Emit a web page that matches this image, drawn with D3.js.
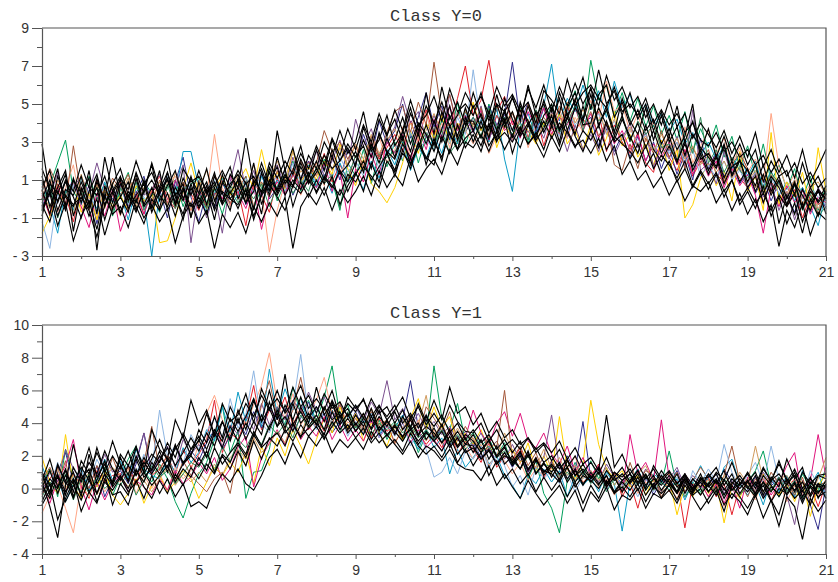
<!DOCTYPE html>
<html>
<head>
<meta charset="utf-8">
<script src="https://cdn.jsdelivr.net/npm/d3@7"></script>
<style>
  html, body { margin: 0; padding: 0; background: #fff; }
  svg { display: block; }
</style>
</head>
<body>
<script>
// samples taken every 0.2 on x, from 1 to 21 (101 values per curve)
const xTicks = [1, 3, 5, 7, 9, 11, 13, 15, 17, 19, 21];
const yTicksTop = [-3, -1, 1, 3, 5, 7, 9];
const yTicksBottom = [-4, -2, 0, 2, 4, 6, 8, 10];
const titles = ['Class Y=0', 'Class Y=1'];

// ---- Class Y=0 ----
const c0a = [0.5,-0.8,1.2,0.1,-0.4, 0.9,-0.2,0.6,-1.1,0.3, 1.0,-0.5,0.2,0.8,-0.7, 0.4,1.1,-0.3,0.6,-0.9, 0.2,0.9,-0.4,1.3,0.0, 0.6,-0.2,1.0,0.4,1.4, 0.3,1.2,0.7,1.9,0.9, 1.6,0.8,2.2,1.3,1.8, 2.5,1.4,2.9,1.9,3.2, 2.2,3.6,2.5,3.9,2.9, 4.1,3.0,4.4,3.3,4.8, 3.6,4.5,3.2,5.0,3.8, 4.6,3.4,4.9,3.7,5.2, 4.0,5.3,3.6,4.8,4.1, 5.5,3.9,4.7,3.3,4.4, 3.1,4.0,2.7,3.6,2.4, 3.3,2.0,2.9,1.7,2.6, 1.5,2.3,1.1,2.0,0.9, 1.6,0.4,1.3,0.2,1.0, -0.3,0.8,-0.5,0.6,-0.2, 0.4];
const c0b = [-0.6,0.7,1.9,3.1,0.4, -0.3,1.2,0.0,0.8,-0.9, 0.5,1.4,-0.2,0.9,0.3, -0.7,0.6,1.0,-0.4,0.8, 1.1,-0.2,0.5,-0.8,0.7, 0.1,1.2,-0.5,0.6,1.5, -0.1,0.9,2.0,0.4,1.3, 0.7,2.1,1.0,-0.6,1.9, 1.2,2.6,0.8,2.4,1.7, 3.0,2.0,3.5,1.9,3.3, 2.6,4.2,3.1,5.1,2.9, 4.0,3.2,5.0,3.7,4.3, 3.3,4.8,2.9,4.4,3.8, 5.0,3.5,4.6,5.7,4.0, 7.3,5.2,6.0,4.4,5.6, 4.1,5.3,3.8,4.9,3.4, 4.4,3.1,4.6,2.5,3.7, 2.7,3.9,2.2,3.3,1.6, 2.8,1.2,2.9,0.9,1.8, 0.5,1.6,0.0,1.2,-0.6, 0.7];
const c0c = [0.3,-0.9,0.8,0.2,-1.2, 0.6,-0.4,1.0,0.1,-0.6, 0.9,-0.1,0.4,-0.8,0.5, 1.2,0.0,-0.5,0.8,0.3, -0.6,0.7,0.2,1.0,-0.3, 0.5,-1.4,0.9,0.2,-0.7, 1.1,0.3,1.6,0.6,2.0, 1.2,2.4,0.9,1.8,1.0, 2.3,1.6,3.0,2.1,2.7, 3.4,2.5,4.1,3.0,4.7, 3.3,4.5,3.8,5.3,7.0, 4.4,5.2,7.3,4.6,5.4, 3.9,4.7,3.2,4.5,2.8, 4.1,3.4,4.9,3.6,4.2, 3.7,4.6,2.5,3.9,3.0, 2.4,3.5,1.9,1.4,3.1, 2.2,1.5,2.6,1.2,2.0, 1.6,2.4,0.9,1.7,1.1, 0.6,1.4,-0.2,0.9,0.3, -0.4,0.5,-1.0,0.2,-0.3, 0.1];
const c0d = [-0.4,0.6,-0.9,0.3,1.0, -0.2,0.7,-1.3,0.4,0.0, 0.8,-0.6,0.3,1.2,-0.3, 0.5,-1.0,0.9,2.2,0.1, -1.2,0.4,-0.5,0.8,0.2, 1.0,-0.3,0.6,1.3,0.0, 0.6,1.5,0.2,1.1,2.0, 0.9,1.6,2.3,1.0,2.6, 1.8,3.4,2.2,4.1,2.9, 3.6,5.0,3.2,4.3,5.6, 3.8,4.9,3.1,4.6,3.5, 4.3,3.6,4.9,3.9,4.4, 7.2,4.0,5.1,3.5,4.8, 3.6,4.5,3.2,5.0,3.9, 4.3,2.8,3.7,2.5,3.4, 2.2,3.3,2.0,3.0,1.6, 2.7,1.3,2.4,1.0,3.2, 1.6,2.5,1.2,1.9,0.8, 1.5,0.3,1.1,-0.1,0.9, 0.2,-0.7,0.6,-0.3,0.4, -0.5];
const c0e = [0.8,-0.3,-1.8,0.5,-0.6, 1.1,0.2,-0.5,0.9,-0.2, 0.3,-1.1,0.6,0.0,-3.0, 0.4,1.0,0.2,2.5,2.5, 0.6,-0.8,0.3,1.1,-0.4, 0.2,0.8,-0.5,1.2,0.4, 1.0,0.2,1.4,0.5,1.8, 0.6,1.3,0.3,1.9,0.9, 1.4,0.5,2.0,1.1,2.6, 1.8,3.0,1.5,2.7,2.1, 3.4,2.4,3.9,2.9,4.6, 3.5,4.2,3.0,4.8,2.1, 0.4,3.8,4.5,3.3,4.9, 7.1,4.1,5.3,4.6,6.0, 4.7,5.7,4.3,6.2,4.8, 5.5,4.2,5.0,3.8,4.5, 3.6,4.2,2.9,3.5,2.3, 3.0,2.1,2.8,1.6,2.4, 1.2,2.0,0.6,1.5,0.2, 0.9,-0.1,0.6,-0.4,-1.4, 0.3];
const c0f = [0.1,1.3,-0.7,0.6,1.8, -0.5,0.4,-1.0,0.7,0.2, -0.9,0.6,1.1,-0.2,0.5, -0.6,0.9,1.2,0.3,-0.2, 1.0,0.1,3.4,0.6,-0.4, 0.7,-0.1,1.1,0.4,-2.8, -0.6,0.9,1.6,0.2,1.2, 1.9,0.7,2.5,1.3,2.1, 2.9,1.5,2.6,3.3,1.9, 2.6,3.8,2.2,3.2,4.5, 3.0,4.0,2.7,4.6,3.6, 2.9,3.8,2.4,3.3,4.2, 3.1,4.5,2.7,3.9,5.0, 3.6,4.8,3.2,4.3,3.5, 5.2,4.1,6.2,4.6,5.0, 3.5,4.5,3.0,4.1,2.6, 3.4,2.2,3.8,1.9,2.8, 3.6,2.4,3.2,1.8,2.7, 1.4,2.1,0.9,4.5,1.7, 0.6,1.3,0.0,0.8,-0.5, 0.2];
const c0g = [-1.8,-0.9,0.4,-0.3,0.9, -0.7,0.3,-1.1,0.5,-0.4, 0.2,-0.6,0.7,-0.1,0.4, -2.3,-2.2,-1.0,0.5,1.9, 0.3,-0.5,0.6,1.2,0.2, 0.9,1.6,0.5,2.6,0.8, 1.4,0.5,2.6,0.8,1.7, 1.0,2.0,1.3,2.9,1.6, 0.7,2.1,0.8,0.4,-0.2, 0.6,1.9,3.6,2.4,4.0, 3.2,4.4,2.9,4.0,3.5, 5.1,3.6,4.6,2.7,3.9, 3.2,4.2,3.6,2.9,4.0, 3.3,4.5,2.9,3.6,2.6, 3.9,2.3,3.2,4.6,2.8, 3.4,2.2,2.9,1.8,3.1, 1.5,2.6,-1.0,-0.3,1.1, 1.9,0.7,1.5,-0.1,2.5, 0.4,1.2,-0.6,3.5,-0.3, 0.9,0.1,1.4,-0.6,2.7, 0.4];
const c0h = [0.2,-0.8,0.6,-0.3,0.9, -0.4,-1.5,0.3,-0.9,0.5, -1.7,-0.5,0.2,-0.8,0.4, 0.7,-0.2,1.0,0.1,-0.6, 0.4,-0.4,0.8,0.0,1.2, 0.3,-0.5,0.7,-1.6,0.2, 0.9,0.2,1.3,0.5,1.0, 0.6,1.9,0.4,1.5,-1.0, 1.6,0.9,2.4,1.3,3.0, 2.4,3.4,2.0,3.7,2.6, 4.2,3.1,4.9,3.6,4.4, 3.5,4.7,3.1,4.4,3.6, 4.1,3.2,4.6,3.8,4.8, 3.4,4.3,3.9,4.8,3.6, 4.5,3.2,4.0,2.9,3.6, 2.6,3.4,2.0,2.9,2.2, 3.0,1.8,2.6,1.3,2.2, 1.2,2.0,0.6,1.6,0.7, 1.3,0.2,-1.8,0.6,-0.4, 0.7,-0.2,0.5,-0.8,0.1, -0.2];
const c0i = [0.9,0.1,1.4,-0.2,0.6, 1.2,0.3,1.9,0.5,-0.1, 0.7,-0.4,1.0,0.2,0.5, 1.3,-0.3,0.6,1.8,-2.3, 0.5,-1.0,0.3,-1.8,0.9, 2.6,0.4,1.5,0.1,1.0, 1.8,0.6,2.2,1.0,1.6, 2.5,1.2,2.0,3.1,1.7, 4.2,2.8,3.7,2.2,3.0, 3.8,5.4,4.0,4.6,3.2, 4.4,3.3,5.5,3.8,4.3, 3.6,4.9,3.2,3.9,4.6, 3.0,4.3,3.5,4.1,3.2, 4.6,3.8,2.5,3.9,2.6, 3.4,2.5,3.9,2.3,3.2, 4.0,2.7,3.5,1.7,2.8, 2.1,3.3,1.7,4.7,1.5, 1.9,0.8,2.5,1.2,1.6, 0.5,1.4,0.1,0.8,-0.6, 0.4,-1.1,0.2,-0.7,0.6, -0.1];
const c0j = [0.4,1.6,0.7,-0.3,2.8, 0.2,-0.6,0.8,-0.1,1.1, 0.5,1.3,0.0,0.8,-0.3, 1.0,0.3,-0.4,0.9,0.2, 0.7,-0.5,1.3,0.4,-0.2, 0.5,1.2,-0.4,0.9,0.1, 1.5,0.6,1.2,2.0,1.1, 1.9,3.6,2.5,3.0,2.1, 2.8,1.7,3.3,2.2,3.5, 4.6,4.9,3.5,5.1,3.9, 7.2,4.4,5.5,3.7,4.6, 3.9,4.8,3.3,4.4,3.7, 4.5,3.5,5.0,3.9,4.3, 3.7,4.9,4.2,5.3,3.8, 4.6,3.3,4.1,1.8,1.5, 2.9,1.6,3.2,2.4,3.6, 2.2,3.0,1.6,2.7,1.9, 2.6,1.3,0.9,1.8,2.4, 1.6,0.6,1.2,0.3,1.0, 0.1,1.0,-0.4,0.6,-0.8, 0.5];
const c0k = [-1.2,-2.6,0.3,-0.5,0.8, -0.3,0.5,-0.8,0.2,-0.1, 0.6,-0.3,0.9,0.1,-0.5, 0.3,1.2,-0.2,0.7,0.4, -0.1,0.6,1.0,0.2,0.9, 0.4,1.1,0.3,1.5,0.6, 1.2,0.4,1.9,0.8,1.4, 0.9,1.7,1.1,2.2,1.4, 2.0,1.2,2.7,1.6,2.3, 2.9,2.1,3.5,2.6,3.1, 2.6,3.8,2.9,4.3,3.4, 6.8,3.9,4.5,3.4,4.1, 3.6,4.4,3.1,4.0,3.5, 4.2,3.3,4.7,3.9,4.4, 3.8,4.5,3.5,4.1,3.2, 3.7,2.9,3.4,2.5,3.0, 2.4,3.0,1.9,2.6,1.2, 1.8,1.1,2.0,1.0,1.5, 0.8,1.4,0.6,1.1,0.3, 0.5,1.0,-0.2,0.6,0.1, -0.3];
const c0l = [2.9,0.2,1.6,-0.5,1.1, -0.2,1.5,-0.8,2.2,0.4, 1.2,-0.1,1.4,0.3,1.9, 0.5,1.4,-0.3,1.1,0.2, 1.5,0.3,0.9,-0.2,1.3, 0.6,3.2,0.8,1.6,0.4, 3.6,1.5,2.7,1.0,2.3, 1.6,3.0,2.2,3.6,2.4, 3.0,4.6,2.6,4.2,3.3, 4.7,3.6,5.2,3.9,4.4, 5.4,4.1,5.8,4.6,5.0, 4.4,5.6,4.1,5.0,4.6, 5.3,4.3,5.8,4.8,6.0, 4.6,5.9,4.9,6.1,5.0, 5.8,4.9,6.5,5.2,5.9, 4.8,5.4,4.3,5.0,3.9, 5.2,3.8,4.5,3.2,4.0, 3.4,2.7,3.6,2.4,3.3, 2.2,3.5,1.7,2.6,1.4, 2.3,1.1,2.6,0.9,1.7, 2.6];
const c0m = [-0.6,0.3,-1.4,-0.2,-2.2, -0.9,-0.1,-1.6,0.2,-0.8, -0.4,-1.5,0.0,-1.0,-0.3, -1.2,-0.5,-2.3,-0.9,-0.2, -1.3,-0.6,-2.6,-0.8,-1.5, -0.7,-1.8,-0.4,-1.2,-0.2, -0.9,0.1,-2.6,-0.4,0.3, -0.3,0.6,-0.6,0.5,-0.2, 0.4,1.2,0.2,1.5,0.6, 1.3,0.7,2.2,0.9,1.6, 2.1,1.3,2.6,1.8,3.0, 2.7,3.4,2.5,3.6,2.6, 3.4,2.7,3.9,3.0,2.2, 3.3,2.5,3.6,2.8,3.1, 2.4,3.2,2.0,2.8,1.3, 2.0,1.0,1.5,0.6,1.2, 0.2,1.0,-0.1,0.7,0.4, 0.9,-0.2,0.5,-0.6,0.3, -0.8,0.0,-1.2,-0.3,-2.5, -0.6,-1.5,-0.2,-1.9,-0.7, -1.1];
const c0n = [1.2,-0.4,0.6,1.5,-0.9, 0.4,1.1,-2.7,0.7,-0.5, 0.8,0.1,1.3,-0.3,0.6, -0.5,1.4,0.2,0.8,-1.0, 0.9,-0.3,1.2,0.3,-0.6, 1.1,0.2,0.8,-0.8,1.7, 0.4,1.3,0.7,2.1,1.2, 2.0,1.0,2.6,1.5,0.9, 1.9,3.1,2.2,3.4,2.5, 2.1,3.3,1.8,2.7,3.9, 2.8,4.6,3.4,2.6,3.8, 4.9,3.7,4.4,3.2,4.7, 3.6,4.9,4.1,3.2,4.4, 5.0,3.7,4.5,3.4,4.9, 3.6,4.8,3.9,3.1,4.2, 3.3,2.4,3.9,2.6,2.0, 2.8,1.9,3.1,1.5,2.4, 1.3,2.2,0.8,1.7,2.0, 0.9,1.8,0.3,1.2,0.6, -0.3,0.8,0.2,-0.6,0.5, 0.0];
const c0o = [0.0,1.0,-0.6,0.5,0.2, 1.2,-0.3,0.9,0.0,2.2, 0.1,0.9,-0.6,0.4,1.0, 0.2,-0.4,0.6,-0.1,1.2, -0.2,0.7,-0.6,0.4,0.0, -0.3,0.5,-1.1,0.3,0.9, 1.7,0.2,1.0,0.5,1.4, 0.3,1.1,0.6,1.5,0.4, 1.3,2.0,1.0,1.7,2.4, 1.5,2.9,2.2,3.5,1.8, 3.2,2.0,3.9,2.6,4.3, 3.0,4.1,2.8,3.5,4.6, 3.2,5.1,3.9,4.6,3.5, 4.4,3.0,4.8,5.6,4.2, 5.9,3.8,4.9,3.5,5.3, 4.1,3.4,4.8,3.1,4.4, 3.0,3.8,2.3,3.4,2.7, 2.2,1.6,2.8,1.2,2.0, 1.5,0.7,1.8,0.4,1.2, 0.0,0.9,-0.5,0.4,-0.1, 0.7];
const c0p = [-0.9,0.8,0.3,1.3,-1.7, 0.6,-0.5,1.1,-0.3,0.7, -0.7,0.4,-0.2,1.0,-0.5, 0.6,2.1,0.1,-0.8,0.8, -0.4,0.5,-1.1,0.9,0.3, 1.0,-0.2,0.4,1.9,0.7, 0.2,1.0,0.6,1.7,0.8, 1.4,2.3,1.6,2.0,2.9, 2.2,2.8,1.6,3.5,2.4, 3.1,4.3,2.9,4.0,3.4, 2.5,3.7,4.9,3.1,4.1, 4.1,3.2,4.6,3.6,5.3, 4.2,3.3,4.0,3.1,3.7, 4.8,3.6,4.3,5.2,3.9, 4.0,5.5,6.0,4.3,5.1, 3.9,4.7,3.6,4.2,2.9, 3.7,2.6,3.3,5.0,2.1, 2.4,1.7,2.9,1.3,2.1, 0.6,1.2,-0.2,1.0,-1.3, 0.2,-0.8,0.5,-0.3,0.4, 0.0];
const c0q = [0.6,1.5,-0.2,0.9,0.1, -1.0,0.4,1.3,-0.4,0.8, 1.6,0.2,-0.7,0.5,1.8, -0.1,0.7,1.5,0.0,1.1, 0.3,1.6,-0.1,0.8,1.7, 0.0,0.9,-0.6,1.4,0.2, 2.2,0.8,1.5,2.8,1.1, 2.6,1.5,3.1,2.0,2.7, 1.7,3.8,2.5,3.1,4.4, 2.8,3.5,4.8,3.3,5.6, 3.4,5.9,4.2,5.1,3.9, 5.6,4.3,3.6,5.5,4.0, 5.4,4.1,6.0,4.4,5.0, 3.8,5.6,4.4,5.2,6.4, 4.7,6.8,5.0,5.7,4.4, 5.6,4.2,5.0,3.6,4.6, 3.3,4.9,3.0,4.1,2.5, 3.7,2.2,3.3,2.0,2.9, 1.8,2.6,0.9,2.0,1.2, 1.5,0.2,1.9,0.6,1.2, 0.2];
const c0r = [-0.3,-1.2,0.4,-0.6,1.0, 0.3,-0.9,0.0,-1.9,-0.5, 0.1,-0.7,1.1,-0.4,0.2, 1.5,-0.6,0.3,-1.1,0.6, -0.5,0.2,1.4,-0.2,0.8, 1.3,0.1,1.9,-0.3,1.0, 0.5,1.6,-0.4,0.9,0.1, 1.0,0.2,1.2,-0.3,0.7, 1.4,0.4,1.9,0.9,2.5, 1.2,2.6,1.6,3.0,2.2, 1.8,3.3,2.4,3.9,2.7, 3.4,2.5,3.9,3.0,4.2, 2.4,3.7,2.9,3.5,2.6, 3.9,2.8,4.3,3.3,2.5, 3.6,2.7,4.1,3.0,3.4, 2.1,2.9,1.7,2.4,1.3, 2.0,0.9,1.6,0.6,1.4, 0.5,1.3,0.1,1.0,-0.3, 0.4,-0.5,0.7,-0.9,0.1, -1.3,-0.2,-1.8,0.0,-0.9, 0.3];
const c0s = [1.6,0.5,-0.1,1.0,0.4, 1.8,0.6,0.2,1.2,-0.2, 1.1,0.5,2.0,0.8,1.4, 0.3,1.0,-0.2,1.6,0.9, 1.2,0.4,0.7,1.5,0.6, 1.5,0.8,1.2,0.3,1.9, 1.1,2.0,1.3,2.4,1.6, 2.8,1.8,3.2,2.3,3.7, 2.6,3.9,3.0,4.5,3.4, 4.2,3.1,4.5,3.6,4.9, 4.0,5.1,3.8,4.4,5.6, 4.8,5.4,4.5,5.9,4.9, 5.5,4.6,5.1,4.0,5.7, 5.2,4.5,6.3,4.9,5.6, 6.0,5.3,4.8,5.9,4.6, 5.0,4.4,5.3,4.0,4.7, 3.9,4.5,3.5,4.0,3.1, 2.8,3.5,2.5,3.0,2.2, 2.6,1.8,2.3,1.4,2.1, 1.2,1.9,0.8,1.4,0.6, 1.1];
const c0t = [-0.5,0.4,-0.9,0.2,-0.3, 0.1,-0.6,-2.0,-0.3,0.4, -0.8,0.2,-0.4,-1.3,0.0, -0.6,0.3,-0.9,0.5,-0.4, 0.1,-0.8,0.6,-0.3,0.4, -0.5,0.5,-0.9,0.2,0.8, 0.1,-0.6,0.7,0.3,1.0, 0.4,1.2,0.7,0.2,1.3, 0.9,1.7,1.2,0.6,2.0, 1.4,2.4,1.9,2.9,2.1, 3.0,2.2,3.5,2.6,3.2, 3.6,2.8,4.0,3.1,3.5, 3.0,3.8,2.9,3.4,4.1, 3.2,4.0,3.5,2.7,3.6, 3.1,3.9,2.6,3.3,2.9, 2.5,1.9,2.8,1.6,2.3, 1.8,1.1,2.0,0.7,1.5, 0.8,1.4,0.4,1.0,-0.1, 0.6,-0.2,0.3,-0.6,0.2, -0.4,0.3,-1.2,-0.1,0.5, -0.8];
const c0u = [0.4,-0.5,1.0,0.2,-0.8, 1.3,0.0,0.7,-0.5,0.9, 0.2,1.1,-0.4,0.6,0.0, 0.9,-0.3,1.4,0.4,-0.6, 0.6,1.5,0.0,0.9,0.3, 1.3,0.4,1.8,0.7,1.1, 2.0,1.0,2.5,1.4,1.9, 1.2,2.3,1.5,2.7,1.8, 2.9,2.1,3.4,2.4,3.1, 3.7,2.8,4.0,3.2,3.6, 4.5,3.5,4.0,3.1,4.7, 3.8,4.4,3.3,4.9,4.0, 4.6,3.6,4.2,3.0,3.9, 4.5,3.7,5.1,4.0,4.7, 3.9,4.8,3.4,4.2,3.1, 3.8,2.8,3.3,2.5,3.4, 2.6,3.2,2.1,2.8,1.8, 2.3,1.4,2.0,1.1,1.7, 0.9,1.5,0.4,1.3,0.7, 0.3,1.0,-0.3,0.6,0.9, 0.2];
const c0v = [-0.2,0.7,-1.0,0.3,0.9, 0.4,-0.4,0.6,0.1,-0.7, 0.6,-0.2,0.9,-0.6,0.3, 0.0,0.8,-0.5,0.4,1.0, 0.3,-0.5,0.8,-0.1,0.5, -0.2,0.6,0.0,0.8,-0.4, 0.7,1.3,0.3,1.0,0.4, 1.7,0.8,1.3,-0.5,1.1, 2.3,1.5,2.8,1.9,2.2, 2.5,3.1,1.8,2.7,3.5, 2.9,3.6,2.4,3.0,3.8, 4.3,3.3,4.8,3.7,4.0, 3.4,4.0,3.1,4.7,3.8, 4.3,3.5,4.0,4.9,3.6, 5.0,4.1,4.6,3.6,4.3, 3.0,4.1,3.4,3.9,2.7, 2.9,2.0,3.5,2.4,4.3, 1.9,2.6,1.4,2.2,1.5, 1.1,1.8,0.5,1.4,0.8, 0.1,0.7,-0.6,0.3,-0.9, -0.4];

// ---- Class Y=1 ----
const c1a = [0.8,-0.4,1.5,0.3,2.7, 0.6,1.2,-0.3,0.9,0.2, 1.4,0.5,1.8,0.7,1.2, 2.3,1.0,2.6,1.6,2.1, 3.0,1.9,3.4,2.5,3.8, 2.9,4.0,3.2,4.5,3.6, 4.8,3.7,5.2,4.0,4.6, 3.9,5.0,4.2,4.7,3.6, 4.5,3.8,4.9,3.5,4.2, 3.3,4.4,3.6,4.0,3.0, 3.7,2.8,3.4,2.5,3.1, 2.2,3.0,1.8,2.6,1.5, 2.0,1.2,2.3,0.9,1.6, 0.7,1.5,0.4,1.1,0.2, 1.0,0.3,0.8,-0.2,0.5, 0.9,-0.1,0.7,0.2,1.1, 0.4,-0.3,0.6,0.0,0.9, -0.2,0.5,-0.6,0.3,0.8, 0.1,-0.5,0.4,-0.2,0.6, -0.4,0.3,-0.9,0.2,-0.3, 0.5];
const c1b = [0.3,1.2,-0.5,2.4,0.6, -0.2,0.9,0.1,1.3,-0.4, 0.7,1.8,2.6,1.1,0.4, 1.5,0.6,-0.8,-1.8,-0.3, 0.9,1.6,3.0,5.1,2.2, 3.5,-0.6,1.0,1.1,2.4, 5.0,3.9,6.2,4.6,5.4, 4.1,5.6,7.5,4.4,5.1, 3.7,4.6,3.2,4.2,3.0, 4.0,2.9,3.6,2.2,3.3, 7.5,4.3,3.6,5.2,2.9, 3.4,2.6,3.1,2.0,2.8, 1.4,2.2,0.6,1.7,-0.3, -1.2,-2.7,0.5,1.6,0.8, 1.7,0.6,1.3,0.2,0.9, 0.5,1.2,-0.1,0.7,0.3, 2.3,0.1,-0.6,0.4,-0.2, 0.8,0.3,-0.4,0.6,0.1, 0.4,1.1,2.3,0.2,-0.5, 0.3,-0.4,0.9,0.0,-0.2, 1.3];
const c1c = [-0.4,0.6,1.3,-0.2,0.9, 0.2,-0.6,1.1,0.4,0.8, 0.9,1.4,0.3,1.7,0.8, 1.2,2.0,0.9,2.4,1.3, 2.1,3.0,5.4,2.2,3.4, 3.0,4.2,6.3,3.6,4.8, 4.4,5.6,3.9,4.9,3.6, 4.3,3.5,4.8,3.9,4.5, 3.8,4.6,3.1,4.3,3.5, 3.9,3.0,4.2,3.4,2.7, 3.3,2.5,3.7,2.1,2.9, 2.4,1.6,2.8,1.3,2.0, 1.7,2.5,1.0,1.9,0.7, 1.3,0.6,1.8,0.9,0.4, 0.7,1.5,0.2,1.0,-0.5, 0.4,-1.2,0.6,0.1,0.8, -0.2,0.5,-2.4,0.3,-0.4, 0.7,-0.5,0.3,-1.6,0.2, 0.5,-0.3,0.9,-0.8,0.4, 0.0,0.6,-0.5,0.2,-1.1, 0.3];
const c1d = [0.6,-0.2,1.0,2.2,0.4, 0.9,0.0,1.4,-0.5,0.6, 1.1,0.3,1.5,3.4,1.0, 2.0,1.2,2.6,1.4,2.3, 1.7,2.8,3.6,2.4,3.2, 4.1,3.3,4.7,3.7,5.0, 4.2,4.9,3.5,4.3,5.3, 3.8,4.6,3.4,4.1,3.7, 4.7,3.6,4.2,3.2,3.9, 3.4,4.2,6.6,3.7,4.5, 2.9,3.8,2.6,3.2,2.2, 2.8,1.9,2.5,1.6,2.2, 1.3,2.1,1.0,1.7,0.9, 1.6,0.8,2.0,1.1,4.1, 0.6,1.2,-0.1,0.8,0.3, 0.9,0.2,0.7,-0.4,0.5, 0.3,1.1,-0.2,0.6,0.0, 0.8,0.1,1.2,0.4,-0.3, -0.1,0.7,-0.5,0.2,0.5, 0.4,-0.6,0.1,-1.0,-2.5, 0.2];
const c1e = [1.4,0.1,0.7,-0.8,0.3, 1.2,-0.1,0.6,1.8,0.5, 1.7,0.6,2.4,1.2,0.8, 0.6,1.8,1.0,2.5,1.6, 2.2,3.6,2.9,5.0,3.4, 5.9,4.1,5.5,3.8,7.3, 4.5,6.1,4.8,5.5,4.0, 5.0,4.1,4.8,3.6,4.3, 5.1,4.0,4.6,3.3,4.1, 3.7,4.5,3.2,2.4,3.6, 2.5,3.1,0.9,2.4,1.3, 1.9,2.6,1.5,2.0,0.8, 0.2,-0.6,0.8,0.3,1.2, 0.4,1.1,-0.5,0.8,0.2, 0.7,-0.2,1.0,0.3,-2.6, 0.4,1.2,0.1,0.9,0.5, -0.1,0.6,-0.7,0.4,1.4, 0.5,-0.2,1.3,1.8,0.3, -0.4,0.3,-1.0,0.6,-0.2, 0.8,-0.5,1.1,0.2,1.0, -0.6];
const c1f = [-1.5,-0.4,0.2,-1.2,-2.7, 0.3,-0.5,1.0,-0.2,0.6, 0.4,1.2,-0.3,0.8,0.0, 0.9,-0.1,1.3,0.6,1.1, 2.8,4.6,5.7,4.2,3.3, 4.8,3.9,5.1,6.3,8.3, 5.2,4.3,5.8,3.9,4.6, 5.4,6.8,4.6,5.1,4.0, 4.4,3.7,4.9,3.5,4.0, 2.7,3.8,3.1,4.2,2.9, 3.6,2.7,3.2,2.2,2.6, 1.8,2.7,1.4,2.1,1.7, 0.9,1.6,0.5,1.2,0.8, 1.4,0.6,1.1,2.0,0.4, 0.9,0.1,0.6,-0.4,0.3, 0.7,-0.3,0.4,-0.1,0.9, 0.2,-0.6,0.5,-0.2,0.3, -0.5,0.4,-1.1,0.1,-0.4, 0.3,-0.7,0.6,-0.1,0.4, -0.8,0.2,-0.3,0.7,-0.5, 0.6];
const c1g = [1.9,0.4,-0.3,3.3,0.2, -0.6,0.5,0.1,1.1,-0.4, -1.0,-0.3,0.6,-0.9,0.2, 0.8,-0.2,0.4,1.1,0.6, -0.6,0.4,1.3,0.8,1.6, 1.0,2.2,0.3,2.6,1.4, 3.1,2.0,3.6,2.6,1.5, 3.0,4.3,3.4,5.0,3.7, 4.6,2.9,4.0,3.4,2.6, 3.9,3.0,4.3,5.5,3.6, 5.0,3.7,4.4,2.6,3.4, 2.7,3.6,2.3,2.9,1.9, 2.4,1.6,2.8,1.1,2.0, 0.9,4.4,1.2,0.6,1.5, 5.4,2.7,1.2,0.6,1.1, 0.1,0.8,-0.4,0.6,-0.2, 0.5,-1.6,0.2,-0.5,0.7, -0.3,0.4,-2.1,0.2,-0.6, 0.6,-0.2,0.9,0.1,-0.4, 0.3,-0.8,0.5,-1.7,0.2, 0.9];
const c1h = [0.2,-0.9,0.5,1.4,3.0, 0.1,-1.3,0.4,-0.7,0.3, 0.9,-0.2,0.5,0.1,-0.4, 0.6,-0.1,1.1,0.3,0.7, 1.6,0.9,1.9,0.5,1.2, 2.5,3.2,0.1,1.9,2.8, 3.6,2.7,4.1,3.0,3.8, 3.2,4.4,3.0,3.9,2.9, 3.6,2.9,4.2,3.1,3.8, 3.3,4.0,2.8,3.6,2.5, 3.0,2.3,3.5,2.6,3.1, 4.8,3.4,2.7,4.0,4.7, 3.2,4.6,2.9,2.5,3.4, 2.1,1.5,2.6,1.0,1.9, 0.8,1.4,0.3,0.9,-0.2, 3.3,0.9,1.6,0.5,4.2, 0.6,-0.3,0.9,0.1,0.4, -0.5,0.3,-0.9,0.2,-1.2, 0.7,0.0,0.6,-0.4,0.3, 1.4,2.2,-0.6,0.5,3.3, 0.7];
const c1i = [-0.2,1.0,0.4,2.4,1.2, 0.5,1.6,0.8,2.1,1.0, 1.3,0.4,1.7,3.4,1.0, 1.8,2.6,1.3,3.0,2.1, 2.7,1.9,3.5,2.6,3.9, 3.3,4.5,3.6,5.2,3.9, 5.0,4.2,5.4,4.7,5.9, 4.8,5.6,4.3,5.1,4.4, 5.0,4.1,5.3,4.5,6.6, 4.2,4.9,3.8,4.6,3.6, 4.1,3.3,3.8,2.9,3.5, 2.6,3.4,2.4,2.9,1.8, 2.7,1.7,2.2,1.2,1.9, 4.5,1.3,0.6,1.4,0.8, 1.1,0.4,1.5,0.7,0.2, 0.9,0.3,1.2,0.5,-0.2, 0.6,1.3,0.1,0.8,0.3, 0.2,0.9,-0.3,0.5,0.0, 0.6,-0.2,1.0,0.3,0.7, -0.4,-2.2,0.5,-0.3,0.2, -0.1];
const c1j = [0.5,1.3,0.2,1.7,-0.6, 0.8,0.0,1.4,0.5,1.9, 0.6,1.3,0.2,1.6,3.8, 1.1,2.1,0.4,1.7,0.8, 0.3,-0.2,0.6,1.0,-0.3, 2.2,1.4,3.0,5.1,6.6, 4.3,3.6,4.8,6.8,4.5, 3.7,4.9,3.9,5.3,3.5, 4.3,3.4,4.7,3.8,4.0, 2.8,3.6,4.5,3.2,5.0, 4.3,3.5,4.7,2.9,3.8, 3.0,2.2,3.2,2.5,6.0, 1.8,2.6,1.4,2.2,0.9, 1.7,0.8,1.3,0.5,1.0, 0.4,1.2,0.0,0.9,-0.3, 1.6,0.3,1.1,0.8,-0.5, 0.3,1.0,-0.2,0.5,1.3, 0.6,-0.1,0.8,2.6,0.4, -0.5,0.6,-0.2,1.0,0.3, 0.5,-0.4,0.7,-0.9,0.2, 0.4];
const c1k = [0.9,0.1,1.6,-0.3,0.7, 1.1,0.3,1.8,0.8,0.4, 0.6,1.5,0.9,2.1,1.2, 4.8,2.0,2.6,1.5,3.3, 2.4,3.5,4.3,3.1,5.5, 3.7,4.5,7.2,4.0,3.4, 4.6,3.9,5.0,8.2,4.4, 3.6,4.8,3.9,4.4,3.2, 4.1,3.4,4.6,3.1,3.9, 3.2,4.0,2.6,3.5,2.4, 0.7,1.0,1.9,0.9,2.3, 1.8,2.6,1.2,2.2,1.4, 0.1,0.8,-0.4,1.3,0.6, 1.1,0.3,0.9,-0.2,0.7, 0.5,1.2,-0.1,0.8,0.2, 0.4,-0.5,0.6,-0.2,0.9, 0.2,0.7,-0.6,1.1,0.3, 1.2,0.4,2.7,1.0,0.1, 0.8,1.6,0.3,2.6,0.5, -0.1,0.5,-0.8,1.1,0.2, -0.4];
const c1l = [0.4,-1.1,-3.0,0.2,1.0, -0.5,2.1,0.3,1.2,2.9, 1.5,0.4,2.0,1.0,3.6, 2.4,1.8,4.2,3.1,5.4, 3.9,4.8,3.3,5.2,4.1, 4.5,5.8,4.0,6.1,4.9, 5.5,4.7,6.2,5.0,5.7, 4.6,5.8,4.9,5.3,4.4, 5.1,4.3,5.5,4.6,5.0, 4.0,4.8,3.7,5.2,4.1, 5.4,4.2,6.2,4.6,5.0, 3.9,4.6,3.4,4.1,3.1, 3.6,2.7,3.1,2.4,2.8, 2.2,2.9,1.8,2.5,1.5, 1.9,1.1,4.5,1.3,2.1, 0.9,1.5,0.6,1.2,0.4, 1.0,0.3,0.8,-0.1,0.6, 0.7,1.3,0.2,0.9,-0.3, 0.4,1.0,-0.2,0.7,0.1, 1.8,0.6,1.3,-0.4,0.8, 0.9];
const c1m = [-0.8,0.3,-1.9,-0.6,0.5, -1.4,-0.2,-0.9,0.6,-0.4, -0.2,-1.0,0.5,-0.6,0.8, -0.3,0.6,-0.5,0.3,-1.1, -0.8,-1.2,0.1,0.9,0.4, 1.2,0.3,-0.1,0.8,1.9, 2.4,1.5,2.8,1.9,3.2, 2.6,3.4,2.2,3.0,2.5, 3.1,2.4,3.5,2.8,3.3, 2.7,2.1,2.9,1.9,2.6, 2.3,1.7,2.4,1.5,1.2, 1.1,0.5,1.4,0.2,0.9, 0.1,-0.6,0.5,-0.3,-1.0, -0.4,0.2,-0.9,-0.1,-1.4, -0.2,-0.8,0.1,-1.3,-0.4, -0.7,0.0,-1.2,-0.3,-0.6, -0.1,-0.9,0.2,-0.5,-1.3, -0.6,0.1,-1.0,-0.3,-0.8, -1.6,-0.4,-1.8,-0.7,-2.3, -0.5,-1.1,-3.1,-0.6,-1.4, -0.7];
const c1n = [1.0,0.2,0.7,-0.4,1.3, 0.4,1.6,0.9,2.3,1.2, 0.5,1.4,0.8,1.9,1.1, 2.0,1.3,2.7,1.5,2.4, 3.2,2.4,3.6,2.9,4.3, 3.5,4.4,5.5,4.1,6.0, 4.2,7.0,3.9,4.7,3.8, 4.5,3.6,5.2,3.9,4.6, 3.5,4.3,3.7,4.8,3.2, 3.9,3.1,4.4,3.3,3.8, 3.4,2.8,3.6,2.6,3.3, 2.9,2.2,3.0,1.9,2.5, 1.6,2.3,1.1,1.9,0.8, 1.4,0.5,1.7,0.8,1.2, 0.6,1.3,0.2,1.0,0.5, 0.9,0.3,0.8,0.1,0.6, 0.4,-0.2,0.7,0.0,0.5, 0.1,0.6,-0.4,0.4,0.0, 0.5,-0.3,0.8,0.2,-0.5, 0.3,0.8,-0.2,0.6,0.1, 0.2];
const c1o = [0.1,1.1,-0.3,0.8,0.3, 1.3,0.5,2.5,1.0,2.0, 1.2,2.3,0.8,1.6,0.9, 1.7,2.5,1.4,2.2,3.1, 2.3,3.4,2.6,4.1,2.9, 4.3,3.0,4.1,3.3,5.3, 3.8,5.1,4.2,5.6,4.3, 5.0,4.1,5.4,4.4,4.9, 3.9,4.6,3.6,4.4,3.8, 4.7,3.6,4.2,3.2,4.5, 3.1,3.9,2.8,3.5,2.7, 3.3,2.4,2.9,2.0,2.6, 1.5,2.2,1.2,1.8,1.0, 1.5,0.9,1.3,0.4,1.0, 0.4,1.0,0.1,0.7,-0.2, 0.5,1.1,0.2,0.8,-0.1, 0.6,-0.2,0.9,0.2,-0.4, 0.3,0.9,-0.1,0.6,0.2, 1.0,0.2,1.3,0.4,1.7, 0.4,1.2,0.0,0.7,-0.6, 0.3];
const c1p = [-0.3,0.6,0.0,1.1,-0.5, 0.9,-0.2,0.5,1.7,0.1, 0.8,0.0,1.1,0.4,1.6, 0.9,1.8,0.6,1.5,2.0, 1.4,2.3,1.0,2.1,1.6, 2.7,1.9,3.3,2.5,3.0, 3.4,2.6,3.9,3.2,3.7, 4.2,3.1,3.8,4.5,3.4, 4.0,3.3,4.4,3.6,4.1, 3.5,2.9,3.8,2.7,3.4, 2.9,2.3,3.2,2.1,2.7, 2.6,1.8,2.3,1.5,2.0, 1.8,1.2,2.1,0.9,1.5, 1.0,1.6,0.6,1.2,0.3, 0.8,0.2,1.1,0.5,0.9, 0.3,0.9,-0.1,0.6,0.2, 0.8,0.1,0.5,-0.3,0.6, 0.2,-0.4,0.5,-0.1,0.3, -0.2,0.4,-0.6,0.1,-0.3, 0.6,-0.1,0.4,-0.5,0.3, 0.1];
const c1q = [0.9,-0.2,1.4,0.5,-0.6, 1.0,2.5,0.7,1.5,0.3, 1.9,0.8,2.5,1.3,2.1, 1.6,2.8,1.9,3.4,2.4, 2.9,4.6,3.2,4.1,3.0, 4.8,3.6,5.4,4.1,4.9, 3.8,4.4,3.5,5.0,4.0, 6.2,4.5,5.3,4.0,5.6, 4.9,5.4,4.4,5.1,4.2, 4.8,5.6,4.3,5.0,3.9, 4.6,3.8,5.1,4.1,3.5, 3.4,4.0,2.9,3.6,2.6, 3.0,2.4,3.1,2.2,2.7, 1.7,2.4,1.3,2.0,1.0, 1.6,0.9,1.9,0.7,1.3, 0.4,1.1,0.0,1.4,0.6, 1.1,0.3,0.9,-0.2,0.7, 0.2,1.0,0.5,1.6,0.3, 0.9,0.0,1.2,0.5,1.5, 0.6,-0.2,1.0,0.3,0.8, 0.6];
const c1r = [-1.0,-0.1,0.9,-0.8,0.2, -0.7,0.5,-0.3,0.9,-1.0, 0.3,-0.4,1.2,0.1,-0.6, 0.5,-0.3,0.9,0.2,1.3, 0.6,1.5,0.9,2.0,1.2, 2.3,1.4,2.9,1.8,3.1, 2.6,3.6,2.9,3.9,3.2, 3.8,3.0,4.1,3.4,3.9, 3.1,3.7,2.8,3.4,2.5, 3.0,2.3,3.4,2.6,2.1, 2.6,1.9,2.8,1.6,2.4, 1.4,2.2,0.8,1.7,0.6, 1.2,0.3,0.9,-0.2,0.7, -0.1,0.6,-0.5,0.4,-0.9, 0.2,-0.6,0.5,-0.3,0.1, -0.5,0.3,-0.8,0.1,-0.3, 0.2,-0.7,0.4,-0.4,0.0, -0.9,-0.1,-1.4,0.2,-0.5, -1.2,-0.3,0.4,-0.7,-1.6, 0.1,-0.6,-0.1,-1.0,0.3, -0.6];
const c1s = [0.5,1.8,0.1,1.2,-0.2, 1.7,0.9,2.2,1.1,0.4, 2.1,1.4,2.6,0.9,1.8, 3.0,1.7,2.4,3.2,2.0, 3.6,2.8,4.4,3.1,5.0, 4.0,5.2,4.4,5.7,4.8, 6.0,4.6,5.3,6.3,4.9, 5.5,4.8,6.0,4.3,5.2, 4.7,5.5,4.1,5.0,4.4, 5.1,4.0,4.6,3.7,4.4, 3.8,4.5,3.4,4.0,3.0, 3.6,2.8,3.3,2.4,3.0, 2.2,2.9,1.9,2.5,1.6, 2.0,1.2,1.8,0.8,1.5, 0.6,1.3,0.3,1.0,0.7, 1.2,0.4,0.9,0.0,0.8, 0.2,0.9,-0.3,0.6,0.1, 0.9,0.3,1.1,-0.1,0.6, 0.0,0.8,-0.4,0.5,0.9, 0.2,1.0,-0.5,0.4,-0.2, 0.1];
const c1t = [0.2,-0.6,0.8,-0.2,0.6, -0.3,0.8,-0.8,0.4,-0.1, 0.7,-0.2,0.4,1.0,0.2, 0.8,1.4,0.4,1.2,0.7, 1.9,1.1,2.5,1.5,2.2, 2.8,2.1,3.5,2.6,3.8, 4.6,3.4,4.0,3.1,4.4, 4.0,3.3,4.7,3.6,4.3, 3.5,4.1,3.0,3.8,3.3, 3.8,3.2,3.6,2.9,3.5, 2.9,3.5,2.5,3.1,2.2, 2.5,1.8,2.4,1.5,2.2, 1.4,2.0,0.8,1.7,1.1, 0.9,0.4,1.3,0.1,0.8, 0.5,0.0,0.8,-0.3,0.4, -0.1,0.7,-0.4,0.3,-0.6, 0.3,-0.3,0.6,-0.1,0.4, -0.2,0.5,0.0,-0.6,0.3, 0.4,-0.4,0.2,-0.8,0.0, -0.3,0.4,-0.7,0.1,-0.5, -0.2];
const c1u = [0.6,-0.3,1.2,0.0,0.8, 0.2,1.0,-0.4,0.6,1.3, 0.8,0.1,1.0,0.5,-0.2, 0.6,1.3,0.2,0.9,0.4, 1.0,0.4,1.5,0.8,1.9, 2.4,1.8,3.1,2.2,2.7, 3.5,2.8,4.2,3.3,4.6, 4.1,5.0,3.7,4.5,3.8, 4.3,3.5,4.9,3.9,4.2, 3.6,4.3,3.3,3.9,5.7, 3.2,4.0,2.9,3.7,2.8, 3.1,2.3,2.8,2.0,3.4, 2.3,1.6,2.0,1.3,2.4, 1.2,1.9,0.8,1.4,0.6, 1.1,0.5,1.3,0.2,0.9, 0.3,0.9,1.4,0.4,0.7, 0.9,0.1,0.5,-0.3,0.2, 0.5,-0.2,0.8,0.2,1.0, 0.3,2.6,0.5,-0.2,0.6, 0.8,0.1,0.4,-0.4,0.6, 1.9];
const c1v = [-0.5,0.4,-0.2,0.9,-0.7, 0.6,-0.3,0.8,0.0,0.5, 0.2,1.0,-0.4,0.5,1.4, 0.7,1.1,0.3,0.9,1.6, 1.3,2.1,1.1,2.6,1.6, 3.0,2.5,3.4,2.7,3.9, 3.3,4.0,3.1,4.5,3.7, 4.3,3.6,4.0,3.4,4.7, 3.7,4.4,3.3,4.0,3.6, 4.1,3.4,3.9,3.1,3.6, 3.0,3.6,2.7,3.3,2.4, 2.9,2.2,2.6,1.9,2.3, 1.7,1.2,2.0,1.0,1.5, 1.3,0.7,1.0,0.4,1.1, 0.3,0.9,-0.2,0.6,0.0, 0.7,0.2,0.9,-0.1,0.4, -0.1,0.4,-0.5,0.2,-0.3, 0.4,-0.3,0.6,0.0,-0.4, 0.2,-0.5,0.4,-0.1,0.7, -0.2,0.5,-0.6,0.3,0.0, 0.4];

const class0 = [c0a, c0b, c0c, c0d, c0e, c0f, c0g, c0h, c0i, c0j, c0k, c0l, c0m, c0n, c0o, c0p, c0q, c0r, c0s, c0t, c0u, c0v];
const class1 = [c1a, c1b, c1c, c1d, c1e, c1f, c1g, c1h, c1i, c1j, c1k, c1l, c1m, c1n, c1o, c1p, c1q, c1r, c1s, c1t, c1u, c1v];

// one colour per curve (same order in both panels)
const palette = [
  '#000000', '#009e5a', '#e3212b', '#2f2c8a', '#0a9ac4', '#ffa585',
  '#ffd000', '#e0147c', '#7b4f8e', '#a4573a', '#8db5e2',
  '#000000', '#000000', '#000000', '#000000', '#000000',
  '#000000', '#000000', '#000000', '#000000', '#d09a5c', '#2e8b57'
];

const width = 838;
const height = 582;
const left = 42;
const right = 826;

const svg = d3
  .select('body')
  .append('svg')
  .attr('width', width)
  .attr('height', height)
  .style('font-family', '"Liberation Sans", Arial, sans-serif');

const x = d3.scaleLinear().domain([1, 21]).range([left, right]);

const panels = [
  { title: titles[0], series: class0, domain: [-3, 9], top: 28, bottom: 256, yTicks: yTicksTop },
  { title: titles[1], series: class1, domain: [-4, 10], top: 325, bottom: 554, yTicks: yTicksBottom }
];

const axisColor = '#555';
const labelColor = '#333';
const isBlack = k => palette[k] === '#000000';

panels.forEach(p => {
  const y = d3.scaleLinear().domain(p.domain).range([p.bottom, p.top]);
  const g = svg.append('g');

  const line = d3
    .line()
    .x((d, i) => x(1 + i / 5))
    .y(d => y(d));

  // coloured curves first, black ones on top
  const order = d3.range(p.series.length).sort((a, b) => isBlack(a) - isBlack(b));

  g.append('g')
    .attr('fill', 'none')
    .selectAll('path')
    .data(order)
    .join('path')
    .attr('d', k => line(p.series[k]))
    .attr('stroke', k => palette[k])
    .attr('stroke-width', k => (isBlack(k) ? 1.15 : 1));

  // frame: top and right edges
  g.append('path')
    .attr('d', `M${left},${p.top}H${right}V${p.bottom}`)
    .attr('fill', 'none')
    .attr('stroke', axisColor)
    .attr('stroke-width', 1.2);

  // y axis, minor then major ticks
  const yMinor = d3.range(p.domain[0], p.domain[1] + 1).filter(v => !p.yTicks.includes(v));
  g.append('g')
    .attr('transform', `translate(${left},0)`)
    .call(d3.axisLeft(y).tickValues(yMinor).tickSize(5).tickFormat(''))
    .call(a => a.select('.domain').remove())
    .call(a => a.selectAll('line').attr('stroke', axisColor));

  g.append('g')
    .attr('transform', `translate(${left},0)`)
    .call(
      d3
        .axisLeft(y)
        .tickValues(p.yTicks)
        .tickSize(10)
        .tickSizeOuter(0)
        .tickPadding(3)
        .tickFormat(d => (d < 0 ? `- ${-d}` : `${d}`))
    )
    .call(a => a.select('.domain').attr('stroke', axisColor).attr('stroke-width', 1.2))
    .call(a => a.selectAll('line').attr('stroke', axisColor))
    .call(a =>
      a
        .selectAll('text')
        .attr('fill', labelColor)
        .style('font-size', '14px')
        .style('font-family', '"Liberation Sans", Arial, sans-serif')
    );

  // x axis
  const xMinor = d3.range(2, 21, 2);
  g.append('g')
    .attr('transform', `translate(0,${p.bottom})`)
    .call(d3.axisBottom(x).tickValues(xMinor).tickSize(3).tickFormat(''))
    .call(a => a.select('.domain').remove())
    .call(a => a.selectAll('line').attr('stroke', axisColor));

  g.append('g')
    .attr('transform', `translate(0,${p.bottom})`)
    .call(d3.axisBottom(x).tickValues(xTicks).tickSize(5).tickSizeOuter(0).tickPadding(6))
    .call(a => a.select('.domain').attr('stroke', axisColor).attr('stroke-width', 1.2))
    .call(a => a.selectAll('line').attr('stroke', axisColor))
    .call(a =>
      a
        .selectAll('text')
        .attr('fill', labelColor)
        .style('font-size', '14px')
        .style('font-family', '"Liberation Sans", Arial, sans-serif')
    );

  // title
  svg
    .append('text')
    .attr('x', (left + right) / 2 + 2)
    .attr('y', p.top - 7)
    .attr('text-anchor', 'middle')
    .attr('fill', labelColor)
    .style('font-family', '"Liberation Mono", "Courier New", monospace')
    .style('font-size', '17px')
    .text(p.title);
});
</script>
</body>
</html>
